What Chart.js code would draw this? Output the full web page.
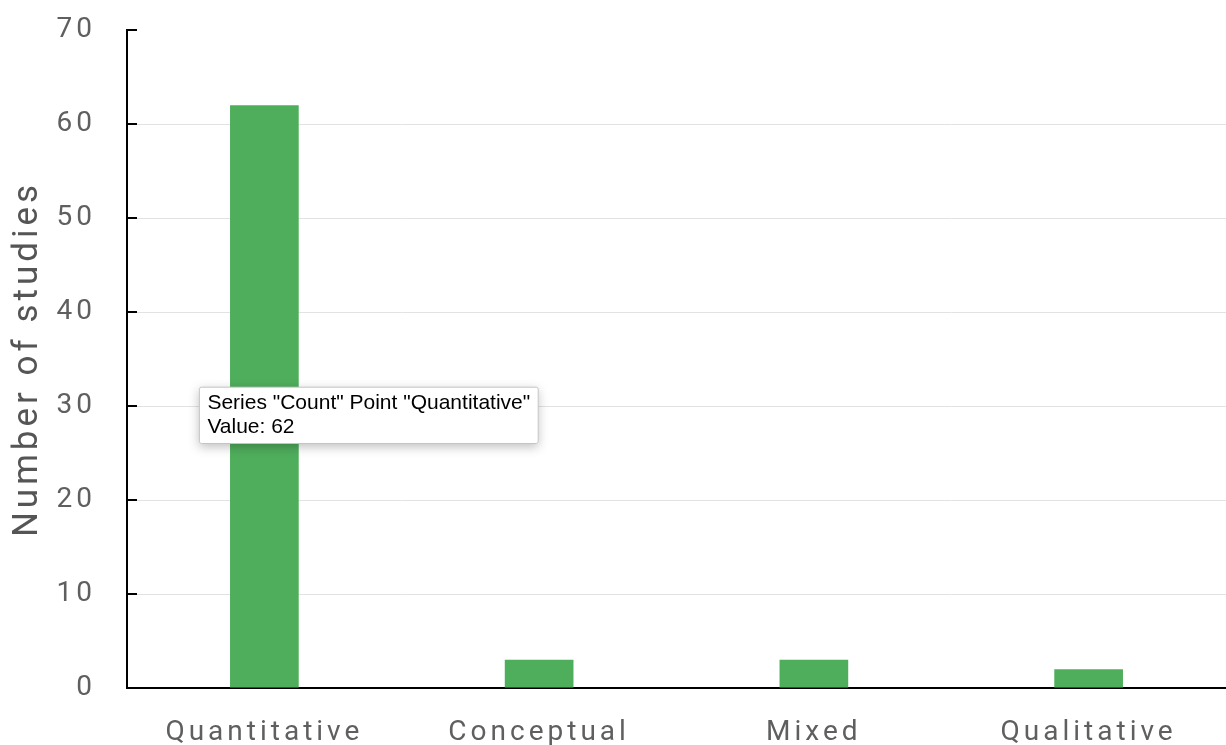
<!DOCTYPE html>
<html>
<head>
<meta charset="utf-8">
<script src="https://cdn.jsdelivr.net/npm/chart.js@4.4.1/dist/chart.umd.min.js"></script>
<style>
  html, body { margin: 0; padding: 0; background: #fff; }
  #wrap { width: 1226px; height: 745px; }
</style>
</head>
<body>
<div id="wrap"><canvas id="chart"></canvas></div>
<script>
// chart data
const seriesName = 'Count';
const categories = ['Quantitative', 'Conceptual', 'Mixed', 'Qualitative'];
const counts = [62, 3, 3, 2];
const yMin = 0;
const yMax = 70;
const yStep = 10;
const yTitle = 'Number of studies';
const tooltipIndex = 0;

const barColor = '#4fae5c';
const tickColor = '#5f5f5f';

// spacing of letters on the axis texts, reset before the tooltip
const letterSpacingPlugin = {
    id: 'letterSpacing',
    beforeDraw(chart) { chart.ctx.letterSpacing = '4px'; },
    beforeDatasetsDraw(chart) { chart.ctx.letterSpacing = '0px'; },
    beforeTooltipDraw(chart, args) {
        const ctx = chart.ctx;
        ctx.letterSpacing = '0px';
        // soft shadow under the tooltip box
        const t = args.tooltip;
        ctx.save();
        ctx.shadowColor = 'rgba(0,0,0,0.25)';
        ctx.shadowBlur = 10;
        ctx.shadowOffsetY = 3;
        ctx.fillStyle = '#fff';
        ctx.fillRect(t.x, t.y, t.width, t.height);
        ctx.restore();
    }
};

// short dark tick marks drawn inward from the y axis
const innerTicksPlugin = {
    id: 'innerTicks',
    afterDatasetsDraw(chart) {
        const ctx = chart.ctx;
        const y = chart.scales.y;
        ctx.save();
        ctx.strokeStyle = '#000';
        ctx.lineWidth = 2;
        y.ticks.forEach(t => {
            const py = Math.round(y.getPixelForValue(t.value));
            if (t.value === yMin) return;
            ctx.beginPath();
            ctx.moveTo(chart.chartArea.left, py);
            ctx.lineTo(chart.chartArea.left + 10, py);
            ctx.stroke();
        });
        ctx.restore();
    }
};

// tooltip placed to the lower left of the bar top
Chart.Tooltip.positioners.fixedBox = function(elements) {
    if (!elements.length) return false;
    const el = elements[0].element;
    const yScale = this.chart.scales.y;
    return { x: el.x - 63, y: yScale.getPixelForValue(32) };
};

const chart = new Chart(document.getElementById('chart'), {
    type: 'bar',
    data: {
        labels: categories,
        datasets: [{
            label: seriesName,
            data: counts,
            backgroundColor: barColor,
            borderWidth: 0,
            barPercentage: 0.25,
            categoryPercentage: 1.0
        }]
    },
    options: {
        responsive: true,
        maintainAspectRatio: false,
        animation: false,
        events: [],
        layout: { padding: { top: 30, right: 0, left: 0, bottom: 0 } },
        scales: {
            x: {
                grid: { display: false, drawTicks: false },
                border: { display: true, color: '#000', width: 2 },
                ticks: {
                    color: tickColor,
                    padding: 28,
                    maxRotation: 0,
                    font: { family: 'Roboto', size: 28 }
                },
                afterFit(scale) { scale.height = 57; }
            },
            y: {
                min: yMin,
                max: yMax,
                grid: {
                    drawTicks: false,
                    color: ctx => (ctx.tick && ctx.tick.value === yMax) ? 'rgba(0,0,0,0)' : '#e2e2e2',
                    lineWidth: 1
                },
                border: { display: true, color: '#000', width: 2 },
                ticks: {
                    stepSize: yStep,
                    color: tickColor,
                    padding: 31,
                    font: { family: 'Roboto', size: 28 }
                },
                title: {
                    display: true,
                    text: yTitle,
                    color: '#555',
                    padding: { top: 7, bottom: 0 },
                    font: { family: 'Roboto', size: 35 }
                },
                afterFit(scale) {
                    scale.width = 127;
                    // the tick padding should not push the plot down
                    scale.paddingTop = 0;
                    scale.paddingBottom = 0;
                }
            }
        },
        plugins: {
            legend: { display: false },
            tooltip: {
                enabled: true,
                position: 'fixedBox',
                xAlign: 'left',
                yAlign: 'top',
                caretSize: 0,
                caretPadding: 0,
                cornerRadius: 2,
                backgroundColor: '#fff',
                borderColor: '#c4c4c4',
                borderWidth: 1,
                titleColor: '#000',
                bodyColor: '#000',
                displayColors: false,
                padding: { x: 8, y: 4 },
                titleMarginBottom: 0,
                titleFont: { family: 'Liberation Sans', size: 21, weight: 'normal', lineHeight: 1.15 },
                bodyFont: { family: 'Liberation Sans', size: 21, weight: 'normal', lineHeight: 1.15 },
                callbacks: {
                    title: items => `Series "${seriesName}" Point "${items[0].label}"`,
                    label: item => `Value: ${item.raw}`
                }
            }
        }
    },
    plugins: [letterSpacingPlugin, innerTicksPlugin]
});

// show the tooltip on the chosen bar
const bar = chart.getDatasetMeta(0).data[tooltipIndex];
chart.tooltip.setActiveElements([{ datasetIndex: 0, index: tooltipIndex }], { x: bar.x, y: bar.y });
chart.update();
</script>
</body>
</html>
